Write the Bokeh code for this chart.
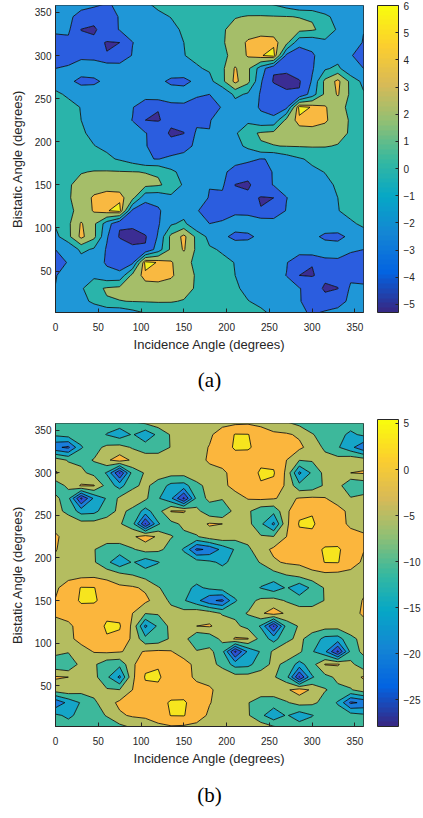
import numpy as np
from bokeh.plotting import figure
from bokeh.models import Range1d, FixedTicker, ColorBar, LinearColorMapper, Title
from bokeh.layouts import column
from bokeh.embed import file_html
from bokeh.resources import INLINE

# grid of angles (degrees) on which the field values were read
ANGLES = list(range(0, 361, 15))
X_TICKS = [0, 50, 100, 150, 200, 250, 300, 350]
Y_TICKS = [50, 100, 150, 200, 250, 300, 350]

# ---- panel (a): values read at X = 0..165 (step 15) for rows Y = 90..270 ----
A_Y090 = [-0.6, 1.5, 4.5, 2.5, -1.8, -4.2, -5.0, -4.2, -1.8, 2.5, 4.5, 1.5]
A_Y105 = [0.25, 1.6, 4.2, 2.4, -1.0, -3.8, -3.4, -2.6, -2.2, -0.3, 0.5, -1.9]
A_Y120 = [0.55, 1.5, 2.7, 4.2, 4.9, 5.5, -2.5, -2.9, -2.2, -1.2, -1.0, -1.9]
A_Y135 = [0.8, 1.8, 2.9, 4.3, 4.8, 4.7, 2.6, -1.5, -1.5, -0.5, -0.9, -0.4]
A_Y150 = [1.1, 1.8, 2.6, 3.0, 3.2, 3.1, 2.8, 2.5, 2.2, 1.5, -0.3, -0.4]
A_Y165 = [1.3, 1.6, 1.9, 2.1, 2.15, 2.1, 2.05, 1.95, 1.85, 0.4, -0.6, -0.5]
A_Y180 = [1.4, 1.2, 1.05, 0.8, 0.35, -0.2, -1.0, -1.9, -2.05, -1.55, -1.3, -1.0]
A_Y195 = [1.3, 0.9, 0.55, 0.05, -0.35, -0.8, -1.2, -1.9, -2.65, -3.3, -2.7, -1.6]
A_Y210 = [1.1, 0.8, 0.25, -0.45, -0.65, -0.9, -1.25, -1.9, -2.9, -4.3, -4.05, -1.7]
A_Y225 = [0.8, 0.6, 0.0, -0.6, -0.8, -1.2, -2.05, -4.0, -4.1, -3.55, -3.35, -2.4]
A_Y240 = [0.55, 0.4, -0.05, -0.7, -0.9, -1.15, -1.85, -3.8, -3.95, -2.6, -2.5, -2.65]
A_Y255 = [0.25, -0.2, -0.55, -0.8, -0.85, -0.95, -1.1, -0.8, -0.6, -0.9, -0.9, -1.8]
A_Y270 = [-0.6, -1.5, -2.6, -2.4, -1.5, -1.1, -1.0, -1.1, -1.5, -2.4, -2.6, -1.5]
A_X000_LOW = [-1.2, -1.6, -1.9, -2.2, -2.6, -2.0]   # X = 0, Y = 0..75
A_LEVELS = [-10, -4, -2, 0, 2, 4, 5, 10]
A_COLORS = ["#3b2d93", "#2b5ddf", "#1f97d7", "#2ab4aa", "#a5be69", "#f9b941", "#f5ef1f"]
A_CLIM = (-5.3, 6.0)
A_CTICKS = [-5, -4, -3, -2, -1, 0, 1, 2, 3, 4, 5, 6]

# ---- panel (b) ----
B_Y090 = [-3.5, -4.5, -2.5, 0.3, 0.8, 0.3, -1.0, 0.3, 0.8, 0.3, -2.5, -4.5]
B_Y105 = [-3.2, -1.5, 2.0, 3.0, 4.7, 4.0, -1.0, -8.5, -8.0, -4.2, -2.8, -10.0]
B_Y120 = [-1.2, -0.8, 1.5, 3.2, 5.5, 5.4, -1.0, -16.0, -9.0, -3.5, -2.0, 0.0]
B_Y135 = [0.5, 1.5, 3.0, 3.0, 4.2, 3.8, 0.0, -4.8, -4.5, -3.2, -3.2, -1.5]
B_Y150 = [0.2, 2.8, 5.6, 5.5, 3.5, 2.2, 1.8, 1.0, -2.0, -6.0, -9.5, -13.5]
B_Y165 = [-0.7, 2.0, 5.25, 5.15, 2.8, 1.0, 0.6, -0.7, -4.7, -6.8, -8.5, -11.0]
B_Y180 = [-1.0, -1.5, -1.5, -1.2, -1.8, -3.5, -5.0, -7.0, -8.0, -8.0, -8.0, -7.5]
B_Y195 = [-0.7, -2.0, -2.5, -4.5, -8.8, -13.5, -9.5, -12.8, -10.2, -7.8, -7.5, -7.5]
B_Y210 = [0.2, -1.5, -2.8, -4.8, -7.2, -7.5, -5.5, -3.2, -4.0, -6.5, -10.5, -21.0]
B_Y225 = [0.5, -1.3, -2.5, -2.8, -2.5, -2.2, -0.8, 2.3, -0.8, -4.8, -6.0, -5.5]
B_Y240 = [-1.2, -1.5, -3.0, -3.0, -2.8, -4.5, -8.0, -25.5, -10.5, -6.5, -4.0, -2.0]
B_Y255 = [-3.2, -6.5, -12.0, -11.5, -7.0, -4.0, -6.0, -12.0, -7.0, 0.3, 0.5, -3.5]
B_Y270 = [-3.5, -8.5, -26.0, -14.0, -9.5, -4.0, -2.5, -4.0, -9.5, -14.0, -26.0, -8.5]
B_X000_LOW = [-8.0, -9.0, -19.0, -2.5, 0.5, -8.5]
B_LEVELS = [-40, -25, -20, -15, -10, -5, 0, 5, 20]
B_COLORS = ["#362b8c", "#2c50d2", "#1a7ddb", "#15a5c8", "#3db89b", "#b4bd60", "#fbb63d", "#f6e51e"]
B_CLIM = (-27.9, 5.43)
B_CTICKS = [-25, -20, -15, -10, -5, 0, 5]

PARULA = ["#352a87", "#0363e1", "#1485d4", "#06a7c6", "#38b99e",
          "#92bf73", "#d9ba56", "#fcce2e", "#f9fb0e"]

TXT = "#262626"


def build_field(mid_rows, col0_low):
    """Assemble the full 0..360 grid from the read rows, using the
    pattern's repetition (shift by 180/180) and point symmetry seen in the picture."""
    n = len(ANGLES)  # 25
    F = np.full((n, n), np.nan)
    for r, row in enumerate(mid_rows):
        for ix, v in enumerate(row):
            F[6 + r, ix] = v
    for iy, v in enumerate(col0_low):
        F[iy, 0] = v
    for iy in range(19, 25):
        F[iy, 0] = F[24 - iy, 0]
    for ix in range(1, 12):
        for iy in range(0, 6):
            F[iy, ix] = F[12 - iy, 12 - ix]
        for iy in range(19, 25):
            F[iy, ix] = F[36 - iy, 12 - ix]
    for ix in range(12, 24):
        for iy in range(n):
            F[iy, ix] = F[(iy - 12) % 24, ix - 12]
    F[:, 24] = F[:, 0]
    return F


def ramp(anchors, n=64):
    rgb = np.array([[int(c[i:i + 2], 16) for i in (1, 3, 5)] for c in anchors], float)
    t = np.linspace(0, 1, len(anchors))
    out = []
    for v in np.linspace(0, 1, n):
        r, g, b = (int(round(np.interp(v, t, rgb[:, k]))) for k in range(3))
        out.append("#%02x%02x%02x" % (r, g, b))
    return out


def panel(field, levels, colors, clim, cticks, caption, height, cap_standoff):
    p = figure(width=423, height=height,
               x_range=Range1d(0, 360), y_range=Range1d(2, 358),
               output_backend="svg", toolbar_location=None,
               min_border_left=55, min_border_right=57,
               min_border_top=5, min_border_bottom=height - 5 - 307)
    p.contour(x=ANGLES, y=ANGLES, z=field, levels=levels,
              fill_color=colors, line_color="black", line_width=0.8)
    p.grid.visible = False
    p.outline_line_color = TXT
    p.outline_line_width = 1
    p.background_fill_color = "white"
    p.xaxis.ticker = FixedTicker(ticks=X_TICKS)
    p.yaxis.ticker = FixedTicker(ticks=Y_TICKS)
    for ax in (p.xaxis[0], p.yaxis[0]):
        ax.major_tick_in = 4
        ax.major_tick_out = 0
        ax.minor_tick_line_color = None
        ax.axis_line_color = TXT
        ax.major_tick_line_color = TXT
        ax.major_label_text_font = "Liberation Sans"
        ax.major_label_text_font_size = "10px"
        ax.major_label_text_color = TXT
        ax.axis_label_text_font = "Liberation Sans"
        ax.axis_label_text_font_size = "13px"
        ax.axis_label_text_font_style = "normal"
        ax.axis_label_text_color = TXT
    p.xaxis.axis_label = "Incidence Angle (degrees)"
    p.yaxis.axis_label = "Bistatic Angle (degrees)"
    p.xaxis.major_label_standoff = 10
    p.xaxis.axis_label_standoff = 3
    p.yaxis.major_label_standoff = 4
    p.yaxis.axis_label_standoff = 7

    mapper = LinearColorMapper(palette=ramp(PARULA, 64), low=clim[0], high=clim[1])
    cb = ColorBar(color_mapper=mapper, ticker=FixedTicker(ticks=cticks),
                  width=21, height=307, padding=0, margin=0, location=(14, 0),
                  label_standoff=5, major_tick_in=3, major_tick_out=0,
                  major_tick_line_color=TXT, minor_tick_line_color=None,
                  bar_line_color=TXT, border_line_color=None,
                  background_fill_color=None,
                  major_label_text_font="Liberation Sans",
                  major_label_text_font_size="10px",
                  major_label_text_color=TXT)
    p.add_layout(cb, "right")
    p.add_layout(Title(text=caption, align="center", offset=23, standoff=cap_standoff,
                       text_font="Liberation Serif", text_font_size="21px",
                       text_font_style="normal", text_color="black"), "below")
    return p


FA = build_field([A_Y090, A_Y105, A_Y120, A_Y135, A_Y150, A_Y165, A_Y180,
                  A_Y195, A_Y210, A_Y225, A_Y240, A_Y255, A_Y270], A_X000_LOW)
FB = build_field([B_Y090, B_Y105, B_Y120, B_Y135, B_Y150, B_Y165, B_Y180,
                  B_Y195, B_Y210, B_Y225, B_Y240, B_Y255, B_Y270], B_X000_LOW)

pa = panel(FA, A_LEVELS, A_COLORS, A_CLIM, A_CTICKS, "(a)", 418, 22)
pb = panel(FB, B_LEVELS, B_COLORS, B_CLIM, B_CTICKS, "(b)", 400, 24)

layout = column(pa, pb, spacing=0)
open("out.html", "w").write(file_html(layout, INLINE))
